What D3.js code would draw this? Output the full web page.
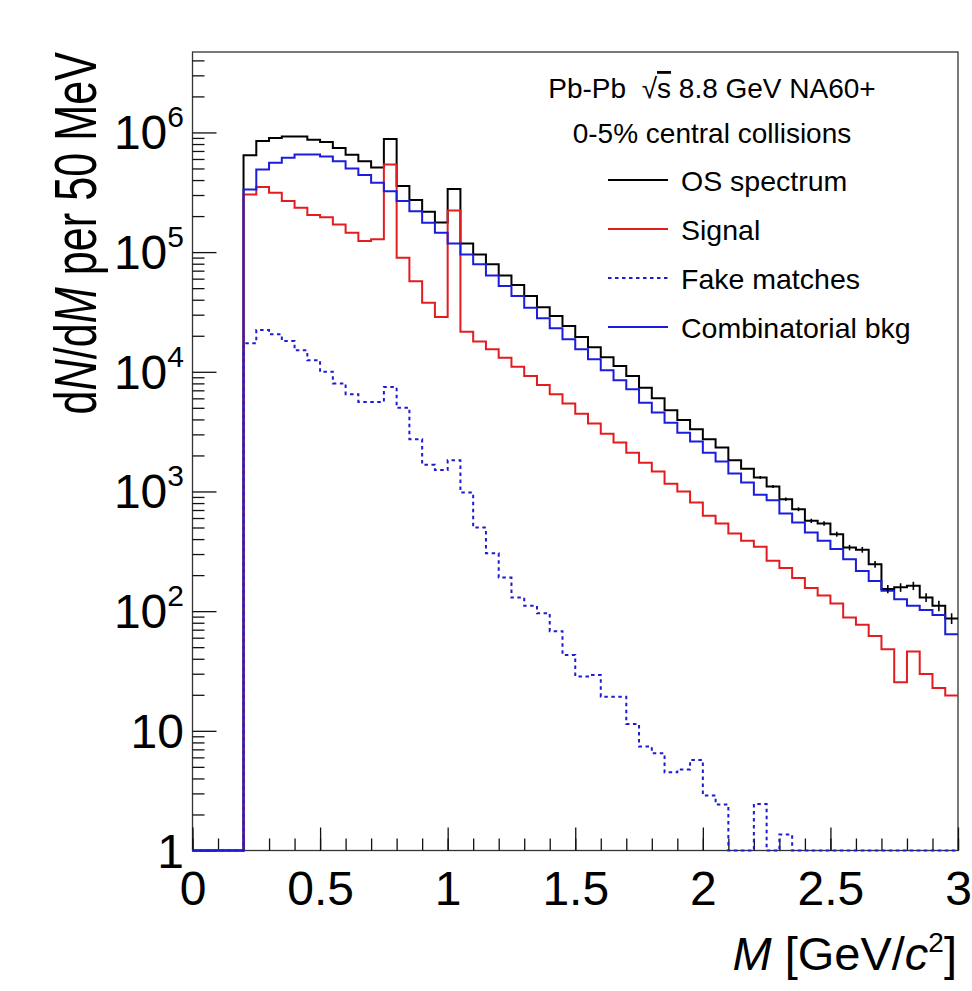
<!DOCTYPE html>
<html>
<head>
<meta charset="utf-8">
<script src="https://cdn.jsdelivr.net/npm/d3@7"></script>
<style>
    body { margin: 0; background: #fff; }
    text { font-family: "Liberation Sans", Arial, Helvetica, sans-serif; fill: #000; }
</style>
</head>
<body>
<div id="chart"></div>
<script>
// low edges of the 50 MeV mass bins
const massLow = [0.00, 0.05, 0.10, 0.15, 0.20, 0.25, 0.30, 0.35, 0.40, 0.45,
    0.50, 0.55, 0.60, 0.65, 0.70, 0.75, 0.80, 0.85, 0.90, 0.95,
    1.00, 1.05, 1.10, 1.15, 1.20, 1.25, 1.30, 1.35, 1.40, 1.45,
    1.50, 1.55, 1.60, 1.65, 1.70, 1.75, 1.80, 1.85, 1.90, 1.95,
    2.00, 2.05, 2.10, 2.15, 2.20, 2.25, 2.30, 2.35, 2.40, 2.45,
    2.50, 2.55, 2.60, 2.65, 2.70, 2.75, 2.80, 2.85, 2.90, 2.95];

const osSpectrum = [0, 0, 0, 0, 6.45e5, 8.5e5, 9.0e5, 9.25e5, 9.25e5, 8.7e5,
    8.3e5, 7.4e5, 6.5e5, 5.75e5, 5.1e5, 8.8e5, 3.57e5, 2.73e5, 2.17e5, 1.77e5,
    3.37e5, 1.18e5, 9.56e4, 7.9e4, 6.38e4, 5.3e4, 4.3e4, 3.47e4, 2.92e4, 2.41e4,
    1.95e4, 1.60e4, 1.32e4, 1.12e4, 9200, 7370, 6000, 4770, 3960, 3310,
    2730, 2330, 1820, 1550, 1310, 1100, 863, 711, 568, 540,
    440, 340, 326, 247, 153, 158, 163, 130, 111, 87];

const signal = [0, 0, 0, 0, 3.03e5, 3.5e5, 3.13e5, 2.67e5, 2.35e5, 2.04e5,
    1.96e5, 1.70e5, 1.45e5, 1.24e5, 1.28e5, 5.4e5, 8.97e4, 5.7e4, 3.77e4, 2.87e4,
    2.23e5, 2.16e4, 1.79e4, 1.54e4, 1.31e4, 1.1e4, 9200, 7760, 6500, 5420,
    4470, 3690, 3040, 2560, 2110, 1740, 1470, 1160, 998, 807,
    626, 540, 445, 387, 345, 264, 229, 189, 156, 135,
    116, 88.7, 77, 62, 48, 25.4, 46, 29.9, 22.8, 19.7];

const fakeMatches = [0, 0, 0, 0, 1.73e4, 2.23e4, 2.06e4, 1.81e4, 1.51e4, 1.25e4,
    1.0e4, 8000, 6500, 5600, 5600, 7470, 5000, 2730, 1670, 1510,
    1820, 980, 500, 305, 191, 130, 111, 96, 68, 43,
    28.5, 29.3, 19.3, 19.3, 11.4, 7.4, 6.5, 4.5, 4.75, 5.7,
    2.88, 2.42, 0, 0, 2.45, 0, 1.36, 0, 0, 0,
    0, 0, 0, 0, 0, 0, 0, 0, 0, 0];

const combBkg = [0, 0, 0, 0, 3.34e5, 4.9e5, 5.57e5, 6.13e5, 6.53e5, 6.53e5,
    6.3e5, 5.75e5, 5.0e5, 4.4e5, 3.8e5, 3.23e5, 2.67e5, 2.2e5, 1.76e5, 1.45e5,
    1.18e5, 9.56e4, 7.9e4, 6.38e4, 5.2e4, 4.3e4, 3.43e4, 2.8e4, 2.31e4, 1.87e4,
    1.54e4, 1.27e4, 1.03e4, 8500, 7140, 5520, 4560, 3760, 3100, 2610,
    2110, 1780, 1410, 1190, 937, 846, 654, 550, 454, 387,
    330, 272, 217, 179, 148, 126, 111, 102, 93, 64];

// visible error bars of the OS spectrum (tail only)
const errMass = [2.20, 2.25, 2.30, 2.35, 2.40, 2.45, 2.50, 2.55, 2.60, 2.65, 2.70, 2.75, 2.80, 2.85, 2.90, 2.95];
const osErr = [36, 33, 29, 27, 24, 23, 21, 18, 18, 16, 12, 13, 13, 11, 11, 9];

const xTicks = [0, 0.5, 1, 1.5, 2, 2.5, 3];
const xTickLabels = ["0", "0.5", "1", "1.5", "2", "2.5", "3"];
const yDecades = [1, 10, 100, 1e3, 1e4, 1e5, 1e6];
const yExponents = [0, 1, 2, 3, 4, 5, 6];

const headerLines = ["0-5% central collisions"];
const legendLabels = ["OS spectrum", "Signal", "Fake matches", "Combinatorial bkg"];

let width = 972, height = 991;
let svg = d3.select("#chart").append("svg")
    .attr("width", width)
    .attr("height", height)
    .style("background", "#fff");

let x = d3.scaleLinear().domain([0, 3]).range([192.5, 958]);
let y = d3.scaleLog().domain([1, 4.7e6]).range([850.5, 52]);

let styles = [
    {vals: osSpectrum, color: "#000000", dash: null},
    {vals: signal, color: "#e31c1f", dash: null},
    {vals: fakeMatches, color: "#1c1cd2", dash: "3.5,3.5"},
    {vals: combBkg, color: "#1c1cdc", dash: null}
];

// frame (drawn first so histograms at the floor sit on top)
svg.append("rect")
    .attr("x", 192.5).attr("y", 52)
    .attr("width", 958 - 192.5).attr("height", 850.5 - 52)
    .attr("fill", "none")
    .attr("stroke", "#333")
    .attr("stroke-width", 1.3);

// y axis ticks (pointing inward)
let yMinor = [];
yDecades.forEach(function (d) {
    for (let m = 2; m <= 9; m++) {
        if (m * d <= 4.7e6) yMinor.push(m * d);
    }
});

svg.append("g")
    .attr("transform", "translate(192.5,0)")
    .call(d3.axisLeft(y).tickValues(yDecades).tickSize(-24).tickFormat(""))
    .call(g => g.select(".domain").remove())
    .call(g => g.selectAll("line").attr("stroke", "#111").attr("stroke-width", 1.3));

svg.append("g")
    .attr("transform", "translate(192.5,0)")
    .call(d3.axisLeft(y).tickValues(yMinor).tickSize(-12).tickFormat(""))
    .call(g => g.select(".domain").remove())
    .call(g => g.selectAll("line").attr("stroke", "#111").attr("stroke-width", 1.3));

// x axis
svg.append("g")
    .attr("transform", "translate(0,850.5)")
    .call(d3.axisBottom(x).tickValues(d3.range(0, 3.0001, 0.1)).tickSize(-12).tickFormat(""))
    .call(g => g.select(".domain").remove())
    .call(g => g.selectAll("line").attr("stroke", "#111").attr("stroke-width", 1.3));

svg.append("g")
    .attr("transform", "translate(0,850.5)")
    .call(d3.axisBottom(x).tickValues(xTicks).tickSize(-23).tickPadding(20)
        .tickFormat((d, i) => xTickLabels[i]))
    .call(g => g.select(".domain").remove())
    .call(g => g.selectAll("line").attr("stroke", "#111").attr("stroke-width", 1.3))
    .call(g => g.selectAll("text")
        .style("font-size", "48px")
        .style("font-family", "'Liberation Sans', Arial, sans-serif")
        .attr("fill", "#000"));

// histograms
let histLine = d3.line()
    .x(d => x(d.m))
    .y(d => y(Math.max(d.v, 1)))
    .curve(d3.curveStepAfter);

let plot = svg.append("g");

styles.forEach(function (s) {
    let pts = massLow.map((m, i) => ({m: m, v: s.vals[i]}));
    pts.push({m: 3, v: s.vals[s.vals.length - 1]});
    plot.append("path")
        .attr("d", histLine(pts))
        .attr("fill", "none")
        .attr("stroke", s.color)
        .attr("stroke-width", 2)
        .attr("stroke-dasharray", s.dash);
});

// error bars on OS spectrum
errMass.forEach(function (m, k) {
    let i = massLow.findIndex(d => Math.abs(d - m) < 1e-6);
    let v = osSpectrum[i];
    plot.append("line")
        .attr("x1", x(m + 0.025)).attr("x2", x(m + 0.025))
        .attr("y1", y(v - osErr[k])).attr("y2", y(v + osErr[k]))
        .attr("stroke", "#000")
        .attr("stroke-width", 1.6);
});

// y tick labels with superscripts
let yLab = svg.append("g");
yDecades.forEach(function (d, i) {
    let t = yLab.append("text")
        .attr("x", 184)
        .attr("y", y(d) + 17)
        .attr("text-anchor", "end")
        .style("font-size", "48px");
    let e = yExponents[i];
    if (e === 0) {
        t.text("1");
    } else if (e === 1) {
        t.text("10");
    } else {
        t.append("tspan").text("10");
        t.append("tspan").attr("dy", -22).style("font-size", "30px").text(e);
    }
});

// axis titles
let xt = svg.append("text")
    .attr("x", 957)
    .attr("y", 970)
    .attr("text-anchor", "end")
    .style("font-size", "47px");
xt.append("tspan").style("font-style", "italic").text("M");
xt.append("tspan").text(" [GeV/");
xt.append("tspan").style("font-style", "italic").text("c");
xt.append("tspan").attr("dy", -18).style("font-size", "28px").text("2");
xt.append("tspan").attr("dy", 18).text("]");

let yt = svg.append("text")
    .attr("transform", "translate(96,52) rotate(-90) scale(0.72,1)")
    .attr("text-anchor", "end")
    .style("font-size", "60px");
yt.append("tspan").text("d");
yt.append("tspan").style("font-style", "italic").text("N");
yt.append("tspan").text("/d");
yt.append("tspan").style("font-style", "italic").text("M");
yt.append("tspan").text(" per 50 MeV");

// header text
let h1 = svg.append("text")
    .attr("x", 712)
    .attr("y", 98)
    .attr("text-anchor", "middle")
    .style("font-size", "28px")
    .style("white-space", "pre");
h1.append("tspan").text("Pb-Pb  \u221A");
h1.append("tspan").style("text-decoration", "overline").text("s");
h1.append("tspan").text(" 8.8 GeV NA60+");

svg.selectAll(".header")
    .data(headerLines)
    .enter()
    .append("text")
    .attr("class", "header")
    .attr("x", 712)
    .attr("y", (d, i) => 143 + i * 48)
    .attr("text-anchor", "middle")
    .style("font-size", "28px")
    .text(d => d);

// legend
let leg = svg.append("g").attr("class", "legend");
legendLabels.forEach(function (lab, i) {
    let ly = 180 + i * 49;
    leg.append("line")
        .attr("x1", 608).attr("x2", 668)
        .attr("y1", ly).attr("y2", ly)
        .attr("stroke", styles[i].color)
        .attr("stroke-width", 2)
        .attr("stroke-dasharray", styles[i].dash);
    leg.append("text")
        .attr("x", 681)
        .attr("y", ly + 11)
        .style("font-size", "28.5px")
        .text(lab);
});
</script>
</body>
</html>
